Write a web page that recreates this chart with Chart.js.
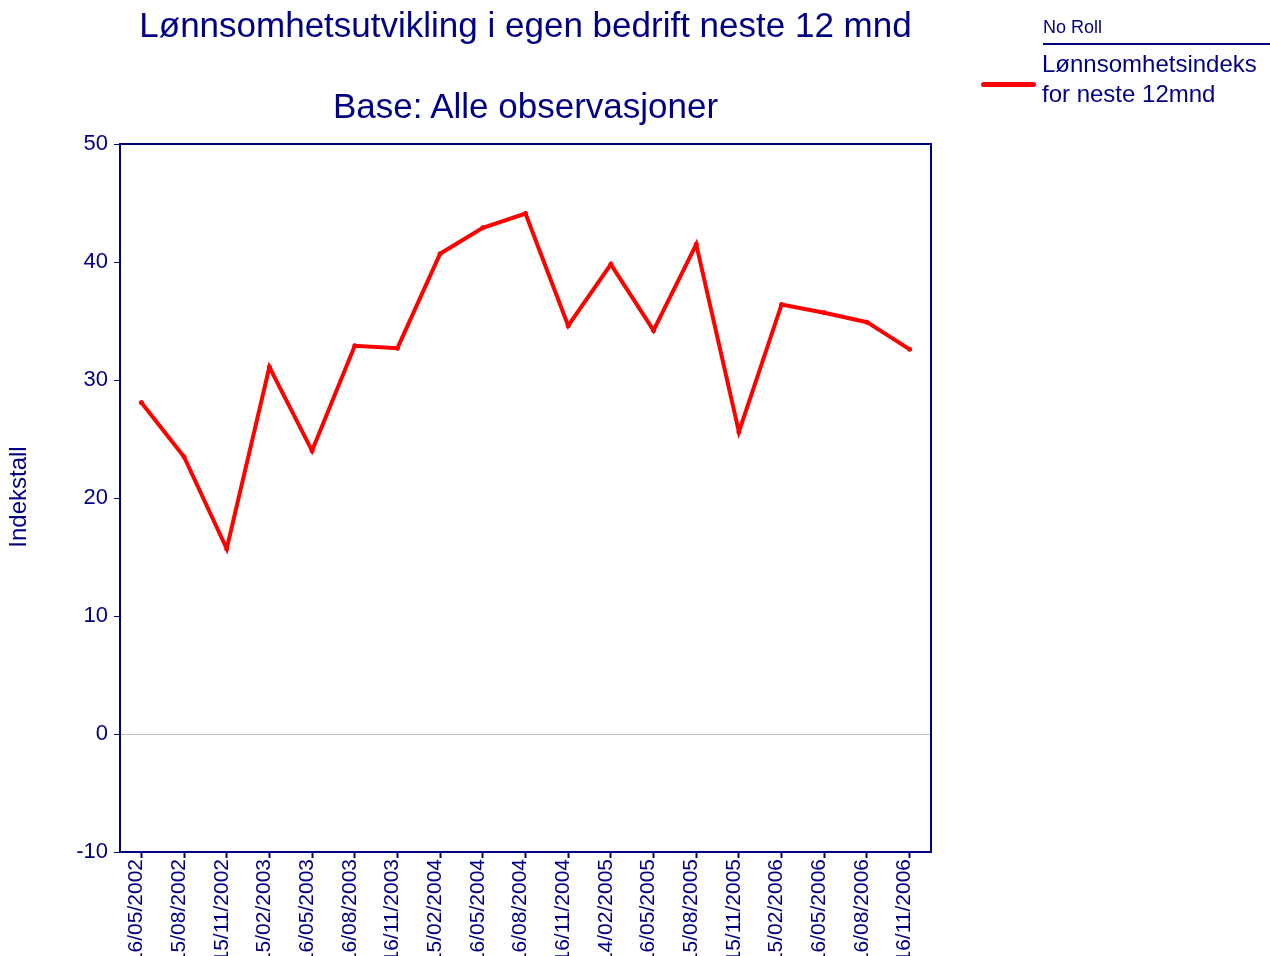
<!DOCTYPE html>
<html><head><meta charset="utf-8">
<script src="https://cdn.jsdelivr.net/npm/chart.js@4"></script>
<style>
html,body{margin:0;padding:0;background:#fff;overflow:hidden}
#wrap{position:relative;width:1270px;height:956px;font-family:Arial,"Liberation Sans",sans-serif;color:#000080}
canvas{position:absolute;left:0;top:0}
.t{position:absolute;white-space:nowrap;line-height:1}
</style></head><body>
<div id="wrap">
<canvas id="c" width="1270" height="956"></canvas>
<div class="t" style="font-size:35px;top:7px;left:0;width:1051px;text-align:center">Lønnsomhetsutvikling i egen bedrift neste 12 mnd</div>
<div class="t" style="font-size:35px;top:88px;left:0;width:1051px;text-align:center">Base: Alle observasjoner</div>
<div class="t" style="font-size:24px;line-height:24px;top:485px;left:-82px;width:200px;height:24px;text-align:center;transform:rotate(-90deg)">Indekstall</div>
<div class="t" style="font-size:18px;top:18px;left:1043px">No Roll</div>
<div style="position:absolute;left:1043px;top:43px;width:227px;height:2px;background:#000080"></div>
<div class="t" style="font-size:24px;line-height:30px;top:49px;left:1042px">Lønnsomhetsindeks<br>for neste 12mnd</div>
<div style="position:absolute;left:981px;top:82px;width:55px;height:5px;background:#ff0000;border-radius:3px"></div>
</div>
<script>
const categories = ["16/05/2002","15/08/2002","15/11/2002","15/02/2003","16/05/2003","16/08/2003","16/11/2003","15/02/2004","16/05/2004","16/08/2004","16/11/2004","14/02/2005","16/05/2005","15/08/2005","15/11/2005","15/02/2006","16/05/2006","16/08/2006","16/11/2006"];
const indexValues = [28.1, 23.5, 15.7, 31.1, 24.0, 32.9, 32.7, 40.7, 42.9, 44.1, 34.6, 39.8, 34.2, 41.5, 25.6, 36.4, 35.7, 34.9, 32.6];
const yTicks = {min: -10, max: 50, step: 10};
const seriesName = "Lønnsomhetsindeks for neste 12mnd";

const NAVY = '#000080';
const FONT = 'Arial, "Liberation Sans", sans-serif';

const framePlugin = {
  id: 'frame',
  afterDraw(chart) {
    const {ctx, chartArea: a} = chart;
    ctx.save();
    ctx.strokeStyle = NAVY;
    ctx.lineWidth = 2;
    ctx.beginPath();
    ctx.moveTo(a.left, a.top);
    ctx.lineTo(a.right, a.top);
    ctx.lineTo(a.right, a.bottom);
    ctx.stroke();
    ctx.restore();
  }
};

new Chart(document.getElementById('c'), {
  type: 'line',
  data: {
    labels: categories,
    datasets: [{
      label: seriesName,
      data: indexValues,
      borderColor: '#ff0000',
      backgroundColor: '#ff0000',
      borderWidth: 4,
      pointRadius: 2.5,
      pointBackgroundColor: '#ff0000',
      pointBorderWidth: 0,
      tension: 0,
      fill: false
    }]
  },
  options: {
    responsive: false,
    animation: false,
    devicePixelRatio: 1,
    layout: {padding: {top: 144, right: 339, left: 0, bottom: 0}},
    plugins: {legend: {display: false}, title: {display: false}, tooltip: {enabled: false}},
    scales: {
      x: {
        type: 'category',
        offset: true,
        grid: {drawOnChartArea: false, tickColor: NAVY, tickLength: 6, offset: false, tickWidth: 2},
        border: {color: NAVY, width: 2},
        ticks: {color: NAVY, font: {family: FONT, size: 21}, minRotation: 90, maxRotation: 90, autoSkip: false, padding: 1, labelOffset: -5},
        afterFit(s) { s.height = 104; }
      },
      y: {
        min: yTicks.min, max: yTicks.max,
        ticks: {stepSize: yTicks.step, color: NAVY, font: {family: FONT, size: 22}, padding: 6},
        grid: {
          color: ctx => (ctx.tick && ctx.tick.value === 0) ? '#c0c0c0' : 'rgba(0,0,0,0)',
          tickColor: NAVY, tickLength: 6, lineWidth: 1
        },
        border: {color: NAVY, width: 2},
        afterFit(s) { s.width = 120; }
      }
    }
  },
  plugins: [framePlugin]
});
</script>
</body></html>
